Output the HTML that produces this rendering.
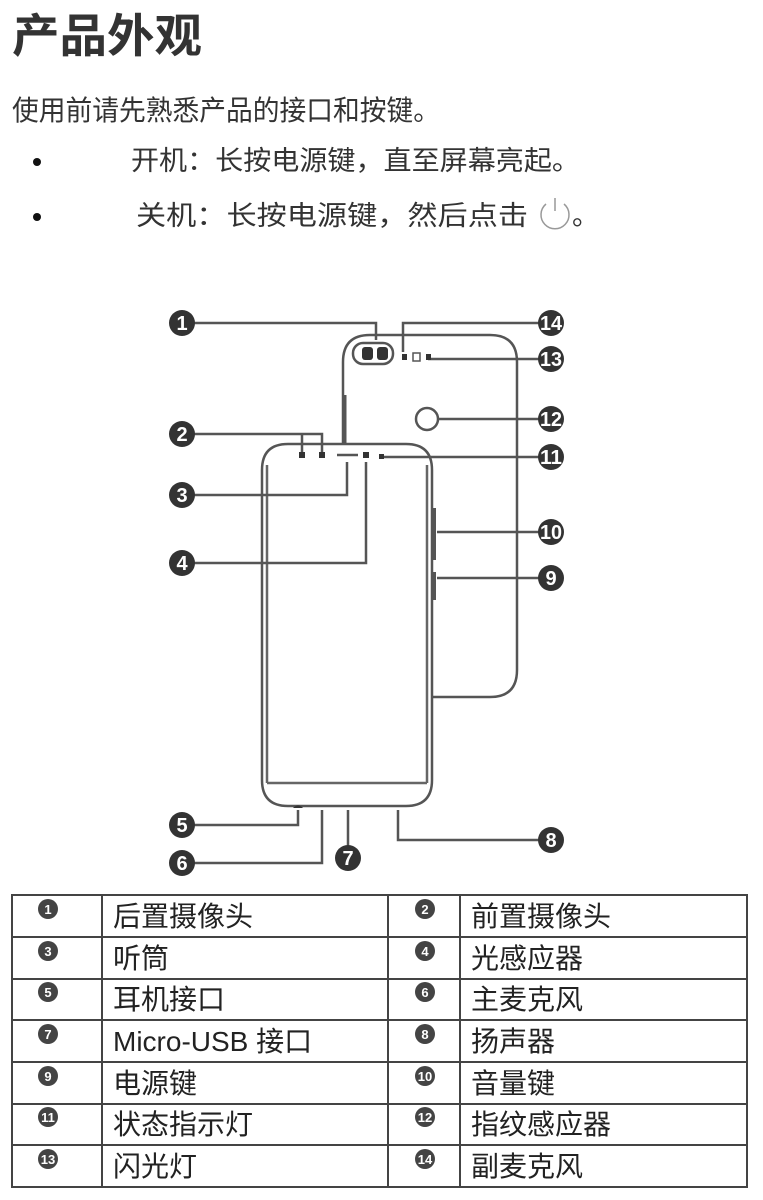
<!DOCTYPE html>
<html><head><meta charset="utf-8"><style>
html,body{margin:0;padding:0;background:#fff;}
svg{display:block;}
text{font-family:"Liberation Sans","Noto Sans CJK SC",sans-serif;fill:#333;}
.n{fill:#fff;font-size:20px;font-weight:bold;text-anchor:middle;}
.sn{fill:#fff;font-size:13px;font-weight:bold;text-anchor:middle;}
.t{font-size:28px;fill:#222;}
</style></head><body>
<svg width="763" height="1200" viewBox="0 0 763 1200" xmlns="http://www.w3.org/2000/svg">
<text x="12" y="52" font-size="46" font-weight="bold" textLength="190" lengthAdjust="spacingAndGlyphs">产品外观</text>
<text x="12" y="120" font-size="28" textLength="428" lengthAdjust="spacingAndGlyphs">使用前请先熟悉产品的接口和按键。</text>
<circle cx="37" cy="162" r="4" fill="#111"/>
<text x="131" y="170" font-size="27" textLength="449" lengthAdjust="spacingAndGlyphs">开机：长按电源键，直至屏幕亮起。</text>
<circle cx="37" cy="217" r="4" fill="#111"/>
<text x="136" y="225" font-size="27" textLength="392" lengthAdjust="spacingAndGlyphs">关机：长按电源键，然后点击</text>
<path d="M546 204 A14 14 0 1 0 564 204" fill="none" stroke="#999" stroke-width="1.5"/>
<line x1="555" y1="198" x2="555" y2="211" stroke="#999" stroke-width="1.5"/>
<text x="572" y="225" font-size="27">。</text>

<g fill="none" stroke="#555" stroke-width="2.5">
<path d="M343 445 V362 Q343 335 370 335 H490 Q517 335 517 362 V670 Q517 697 490 697 H433"/>
<line x1="345" y1="395" x2="345" y2="445" stroke-width="3"/>
<rect x="353" y="343" width="40" height="21" rx="10"/>
<circle cx="427" cy="419" r="11"/>
<rect x="413" y="353" width="7" height="8" stroke-width="1.5"/>
<path d="M262 780 V470 Q262 444 288 444 H406 Q432 444 432 470 V780 Q432 806 406 806 H288 Q262 806 262 780 Z"/>
<path d="M267 783 V465 M427 465 V783 M267 783 H427" stroke="#666"/>
<line x1="337" y1="455" x2="358" y2="455"/>
<path d="M194 323 H376 V340"/>
<path d="M539 323 H403 V352"/>
<path d="M539 359 H428"/>
<path d="M539 419 H438"/>
<path d="M194 434 H322 V452 M302 434 V452"/>
<path d="M539 457 H382"/>
<path d="M194 495 H347 V462"/>
<path d="M194 563 H366 V462"/>
<path d="M539 532 H437"/>
<path d="M539 578 H437"/>
<path d="M194 825 H298 V810"/>
<path d="M194 863 H322 V810"/>
<path d="M348 846 V810"/>
<path d="M539 840 H398 V810"/>
<line x1="434" y1="508" x2="434" y2="560" stroke-width="4"/>
<line x1="434" y1="572" x2="434" y2="600" stroke-width="4"/>
</g>
<g fill="#333">
<rect x="362" y="347" width="11" height="13" rx="3"/>
<rect x="377" y="347" width="11" height="13" rx="3"/>
<rect x="402" y="354" width="5" height="6"/>
<rect x="426" y="354" width="5" height="6"/>
<rect x="299" y="452" width="6" height="6"/>
<rect x="319" y="452" width="6" height="6"/>
<rect x="363" y="452" width="6" height="6"/>
<rect x="379" y="454" width="5" height="5"/>
<path d="M293 808 Q298 803 303 808 Z"/>
</g>
<g fill="#333">
<circle cx="182" cy="323" r="13"/><circle cx="551" cy="323" r="13"/>
<circle cx="551" cy="359" r="13"/><circle cx="551" cy="419" r="13"/>
<circle cx="182" cy="434" r="13"/><circle cx="551" cy="457" r="13"/>
<circle cx="182" cy="495" r="13"/><circle cx="182" cy="563" r="13"/>
<circle cx="551" cy="532" r="13"/><circle cx="551" cy="578" r="13"/>
<circle cx="182" cy="825" r="13"/><circle cx="182" cy="863" r="13"/>
<circle cx="348" cy="858" r="13"/><circle cx="551" cy="840" r="13"/>
</g>
<text class="n" x="182" y="330">1</text><text class="n" x="551" y="330" textLength="22" lengthAdjust="spacingAndGlyphs">14</text>
<text class="n" x="551" y="366" textLength="22" lengthAdjust="spacingAndGlyphs">13</text><text class="n" x="551" y="426" textLength="22" lengthAdjust="spacingAndGlyphs">12</text>
<text class="n" x="182" y="441">2</text><text class="n" x="551" y="464" textLength="22" lengthAdjust="spacingAndGlyphs">11</text>
<text class="n" x="182" y="502">3</text><text class="n" x="182" y="570">4</text>
<text class="n" x="551" y="539" textLength="22" lengthAdjust="spacingAndGlyphs">10</text><text class="n" x="551" y="585">9</text>
<text class="n" x="182" y="832">5</text><text class="n" x="182" y="870">6</text>
<text class="n" x="348" y="865">7</text><text class="n" x="551" y="847">8</text>

<g stroke="#444" stroke-width="2" fill="none">
<rect x="12" y="895" width="735" height="292"/>
<path d="M12 937 H747 M12 979 H747 M12 1020 H747 M12 1062 H747 M12 1104 H747 M12 1145 H747"/>
<path d="M102 895 V1187 M388 895 V1187 M460 895 V1187"/>
</g>
<g fill="#444">
<circle cx="48" cy="909" r="10"/><circle cx="425" cy="909" r="10"/>
<circle cx="48" cy="951" r="10"/><circle cx="425" cy="951" r="10"/>
<circle cx="48" cy="992" r="10"/><circle cx="425" cy="992" r="10"/>
<circle cx="48" cy="1034" r="10"/><circle cx="425" cy="1034" r="10"/>
<circle cx="48" cy="1076" r="10"/><circle cx="425" cy="1076" r="10"/>
<circle cx="48" cy="1117" r="10"/><circle cx="425" cy="1117" r="10"/>
<circle cx="48" cy="1159" r="10"/><circle cx="425" cy="1159" r="10"/>
</g>
<text class="sn" x="48" y="914">1</text><text class="sn" x="425" y="914">2</text>
<text class="sn" x="48" y="956">3</text><text class="sn" x="425" y="956">4</text>
<text class="sn" x="48" y="997">5</text><text class="sn" x="425" y="997">6</text>
<text class="sn" x="48" y="1039">7</text><text class="sn" x="425" y="1039">8</text>
<text class="sn" x="48" y="1081">9</text><text class="sn" x="425" y="1081">10</text>
<text class="sn" x="48" y="1122">11</text><text class="sn" x="425" y="1122">12</text>
<text class="sn" x="48" y="1164">13</text><text class="sn" x="425" y="1164">14</text>
<text class="t" x="113" y="926">后置摄像头</text><text class="t" x="471" y="926">前置摄像头</text>
<text class="t" x="113" y="968">听筒</text><text class="t" x="471" y="968">光感应器</text>
<text class="t" x="113" y="1009">耳机接口</text><text class="t" x="471" y="1009">主麦克风</text>
<text class="t" x="113" y="1051">Micro-USB 接口</text><text class="t" x="471" y="1051">扬声器</text>
<text class="t" x="113" y="1093">电源键</text><text class="t" x="471" y="1093">音量键</text>
<text class="t" x="113" y="1134">状态指示灯</text><text class="t" x="471" y="1134">指纹感应器</text>
<text class="t" x="113" y="1176">闪光灯</text><text class="t" x="471" y="1176">副麦克风</text>
</svg>
</body></html>
